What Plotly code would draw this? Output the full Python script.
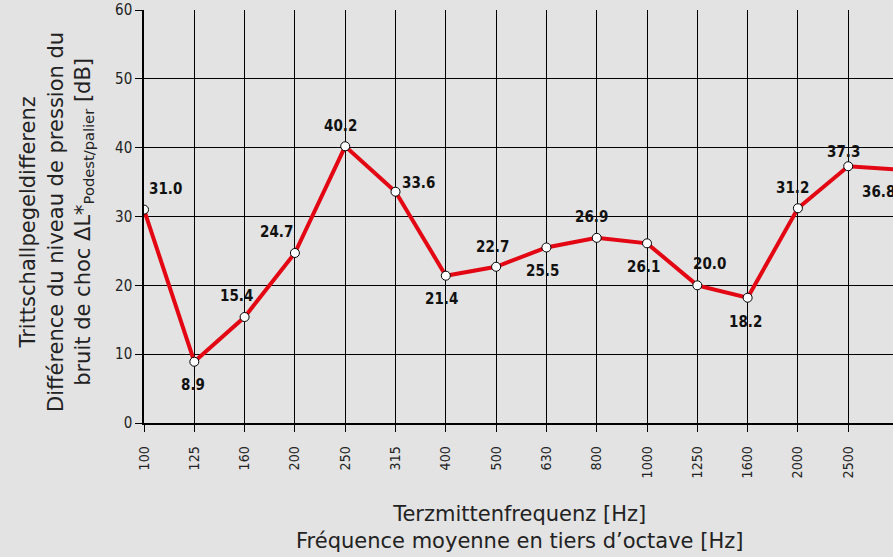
import plotly.graph_objects as go

freqs = ["100", "125", "160", "200", "250", "315", "400", "500", "630", "800",
         "1000", "1250", "1600", "2000", "2500", "3150"]
values = [31.0, 8.9, 15.4, 24.7, 40.2, 33.6, 21.4, 22.7, 25.5, 26.9, 26.1,
          20.0, 18.2, 31.2, 37.3, 36.8]
# label offsets (px) relative to each point
label_dx = [21, -1, -8, -18, -5, 23, -4, -4, -4, -5, -4, 12, -2, -5, -5, -21]
label_dy = [21, -23, 21, 21, 20, 9, -23, 20, -24, 21, -24, 21, -24, 20, 14, -22]

FONT = "DejaVu Sans Condensed"
TITLE_FONT = "DejaVu Sans"
idx = list(range(len(freqs)))
XMAX = 14.89
PX_PER_CAT = 749 / XMAX

fig = go.Figure()
fig.add_trace(go.Scatter(
    x=idx, y=values, mode="lines+markers",
    line=dict(color="#e30613", width=4),
    marker=dict(size=9, color="white", line=dict(color="black", width=1)),
    hoverinfo="skip",
))

annotations = []
for i, v in enumerate(values):
    if i <= XMAX:
        annotations.append(dict(
            x=i, y=v, xref="x", yref="y",
            text=f"{v:.1f}", showarrow=False,
            xshift=label_dx[i], yshift=label_dy[i],
            font=dict(family=FONT, size=15, color="#111111", weight="bold"),
        ))
    else:
        # point lies beyond the right page edge: anchor at the paper edge
        over = (i - XMAX) * PX_PER_CAT
        annotations.append(dict(
            x=1, y=v, xref="paper", yref="y", xanchor="left",
            text=f"{v:.1f}", showarrow=False,
            xshift=over + label_dx[i] - 18, yshift=label_dy[i],
            font=dict(family=FONT, size=15, color="#111111", weight="bold"),
        ))
# tick labels beyond the visible range (partly off the page)
for i, f in enumerate(freqs):
    if i > XMAX:
        over = (i - XMAX) * PX_PER_CAT
        annotations.append(dict(
            x=1, y=0, xref="paper", yref="paper", text=f,
            showarrow=False, textangle=-90, xanchor="left", yanchor="top",
            xshift=over - 8, yshift=-24,
            font=dict(family=FONT, size=14, color="#222222"),
        ))
annotations.append(dict(
    x=-0.116, y=0.487, xref="paper", yref="paper", textangle=-90,
    text="Trittschallpegeldifferenz<br>Différence du niveau de pression du<br>"
         "bruit de choc ΔL*<sub>Podest/palier</sub> [dB]",
    showarrow=False, xanchor="center", yanchor="middle",
    font=dict(family=TITLE_FONT, size=21, color="#222222"),
))
annotations.append(dict(
    x=0.502, y=-0.252, xref="paper", yref="paper",
    text="Terzmittenfrequenz [Hz]<br>Fréquence moyenne en tiers d’octave [Hz]",
    showarrow=False, xanchor="center", yanchor="middle",
    font=dict(family=TITLE_FONT, size=21, color="#222222"),
))

fig.update_layout(
    width=893, height=557,
    margin=dict(l=144, r=0, t=10, b=134),
    paper_bgcolor="#e3e3e3", plot_bgcolor="#e3e3e3",
    showlegend=False,
    font=dict(family=FONT, color="#222222"),
    annotations=annotations,
)
fig.update_xaxes(
    range=[0, XMAX], tickmode="array", tickvals=idx, ticktext=freqs,
    tickangle=-90, ticks="outside", ticklen=7, tickcolor="black",
    ticklabelstandoff=9,
    showgrid=True, gridcolor="black", gridwidth=1,
    showline=True, linecolor="black", linewidth=1.5, automargin=False,
    zeroline=False, tickfont=dict(family=FONT, size=14, color="#222222"),
)
fig.update_yaxes(
    range=[0, 60], dtick=10, ticks="outside", ticklen=7, tickcolor="black",
    showgrid=True, gridcolor="black", gridwidth=1, automargin=False,
    showline=True, linecolor="black", linewidth=1.5,
    zeroline=False, tickfont=dict(family=FONT, size=15, color="#222222"),
)
fig.write_html(
    "out.html",
    config={"displayModeBar": False},
    post_script="document.body.style.margin='0';document.body.style.overflow='hidden';",
)
